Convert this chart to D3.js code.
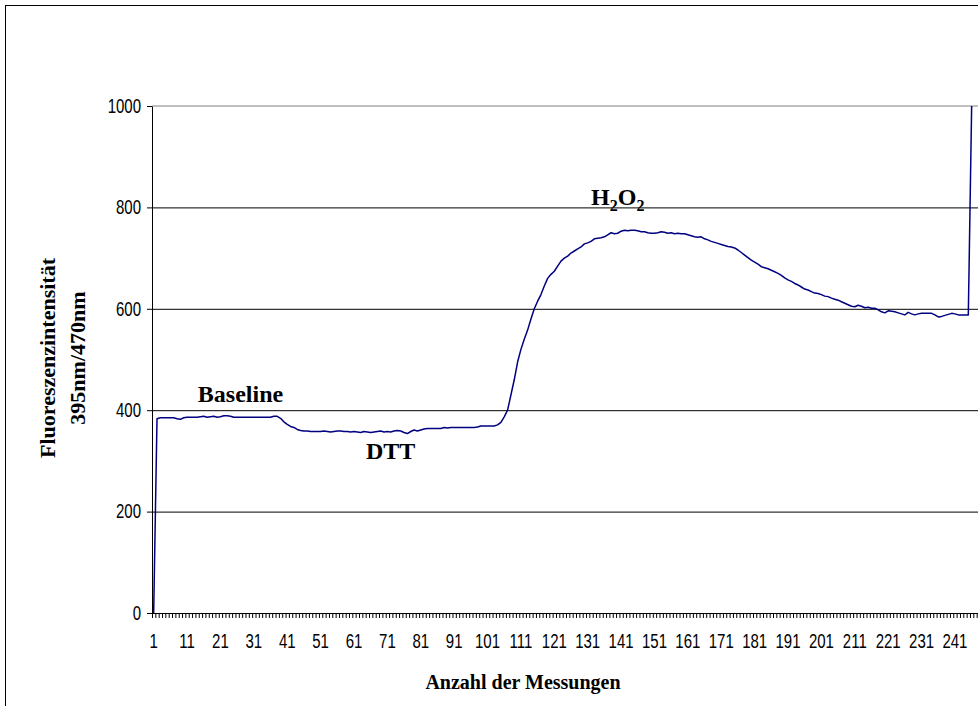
<!DOCTYPE html>
<html>
<head>
<meta charset="utf-8">
<script src="https://cdn.jsdelivr.net/npm/d3@7"></script>
<style>
  body { margin: 0; background: #fff; }
  svg { display: block; }
</style>
</head>
<body>
<svg id="chart"></svg>
<script>
// Messungen 1..248 (category axis)
const categories = d3.range(1, 249);

// Fluoreszenz 395nm/470nm, one value per Messung
const values = [
    0, 383, 385, 385, 385, 385, 385, 383, 382, 385,
  386, 386, 386, 386, 387, 388, 386, 387, 388, 386,
  387, 389, 389, 388, 386, 386, 386, 386, 386, 386,
  386, 386, 386, 386, 386, 386, 388, 388, 384, 377,
  372, 368, 366, 362, 360, 359, 359, 358, 358, 358,
  358, 359, 358, 357, 358, 359, 359, 358, 358, 357,
  358, 357, 356, 358, 357, 356, 357, 358, 359, 357,
  358, 357, 359, 360, 359, 356, 354, 358, 361, 359,
  361, 363, 364, 364, 364, 364, 364, 366, 365, 366,
  366, 366, 366, 366, 366, 366, 366, 367, 369, 369,
  369, 369, 369, 371, 376, 387, 400, 430, 460, 495,
  520, 540, 558, 580, 600, 615, 628, 645, 660, 668,
  674, 684, 694, 700, 704, 710, 714, 718, 722, 728,
  730, 733, 738, 739, 740, 742, 746, 750, 748, 749,
  753, 755, 754, 755, 755, 754, 752, 752, 750, 749,
  749, 750, 752, 751, 749, 750, 748, 749, 748, 748,
  746, 744, 742, 741, 742, 738, 736, 733, 731, 729,
  727, 725, 723, 722, 720, 716, 711, 706, 701, 696,
  692, 688, 683, 681, 679, 676, 673, 670, 666, 661,
  657, 654, 650, 647, 643, 639, 637, 634, 631, 630,
  628, 625, 624, 621, 619, 617, 614, 611, 608, 605,
  604, 607, 605, 602, 603, 601, 601, 598, 594, 592,
  596, 595, 594, 592, 590, 588, 593, 590, 588, 590,
  591, 591, 591, 591, 588, 584, 585, 587, 589, 591,
  590, 588, 588, 588, 588, 1000
];

const yTicks = [0, 200, 400, 600, 800, 1000];
const xTickLabels = [1, 11, 21, 31, 41, 51, 61, 71, 81, 91, 101, 111, 121,
  131, 141, 151, 161, 171, 181, 191, 201, 211, 221, 231, 241];

// annotation texts, anchored at (Messung, Intensität)
const notes = [
  { text: "Baseline", cat: 27, value: 416 },
  { text: "DTT", cat: 72, value: 304 },
  { text: "H2O2", cat: 140, value: 805 }
];

const xTitle = "Anzahl der Messungen";
const yTitle = ["Fluoreszenzintensität", "395nm/470nm"];

class LineChart {
  margin = { top: 106, right: -2, bottom: 93, left: 152 }

  constructor(svg, width = 978, height = 706) {
    this.svg = svg;
    this.width = width;
    this.height = height;
  }

  initialize() {
    this.svg = d3.select(this.svg)
      .attr("width", this.width)
      .attr("height", this.height);

    this.x0 = this.margin.left;
    this.x1 = this.width - this.margin.right;
    this.y0 = this.height - this.margin.bottom;
    this.y1 = this.margin.top;

    this.xScale = d3.scaleBand().domain(categories).range([this.x0, this.x1]);
    this.xEdge = d3.scaleLinear().domain([0, categories.length]).range([this.x0, this.x1]);
    this.yScale = d3.scaleLinear().domain([0, 1000]).range([this.y0, this.y1]);

    // outer chart frame
    this.svg.append("rect")
      .attr("x", 5.5).attr("y", 5.5)
      .attr("width", 1100).attr("height", 760)
      .attr("fill", "none").attr("stroke", "#000");

    this.grid = this.svg.append("g");
    this.border = this.svg.append("g");
    this.line = this.svg.append("g");
    this.xAxis = this.svg.append("g");
    this.xTicks = this.svg.append("g");
    this.yAxis = this.svg.append("g");
    this.labels = this.svg.append("g");
  }

  update() {
    const w = this.x1 - this.x0;
    const stretch = 1.3;   // tick fonts in the original are drawn taller than wide

    this.grid
      .attr("transform", `translate(${this.x0},0)`)
      .call(d3.axisLeft(this.yScale).tickValues([200, 400, 600, 800]).tickSize(-w).tickFormat(""))
      .call(g => g.select(".domain").remove())
      .selectAll("line").attr("stroke", "#000");

    // plot area top border
    this.border.append("line")
      .attr("x1", this.x0).attr("x2", this.x1)
      .attr("y1", this.yScale(1000)).attr("y2", this.yScale(1000))
      .attr("stroke", "#808080");

    this.svg.append("clipPath").attr("id", "plot-clip")
      .append("rect")
      .attr("x", this.x0).attr("y", this.y1 - 1)
      .attr("width", w).attr("height", this.y0 - this.y1 + 1);

    const pts = values.map((v, i) => [categories[i], v]);
    const path = d3.line()
      .x(d => this.xScale(d[0]) + this.xScale.bandwidth() / 2)
      .y(d => this.yScale(d[1]));

    this.line.attr("clip-path", "url(#plot-clip)")
      .append("path")
      .datum(pts)
      .attr("d", path)
      .attr("fill", "none")
      .attr("stroke", "#000080")
      .attr("stroke-width", 1.5)
      .attr("stroke-linejoin", "round");

    // category tick marks between Messungen
    this.xTicks
      .attr("transform", `translate(0,${this.y0})`)
      .call(d3.axisBottom(this.xEdge).tickValues(d3.range(0, categories.length + 1))
        .tickSize(5).tickSizeOuter(0).tickFormat(""))
      .call(g => g.select(".domain").attr("stroke", "#000"))
      .selectAll("line").attr("stroke", "#000");

    const sans = "Arial, 'Liberation Sans', sans-serif";

    this.xAxis
      .attr("transform", `translate(0,${this.y0})`)
      .call(d3.axisBottom(this.xScale).tickValues(xTickLabels).tickSize(0).tickPadding(16.5))
      .call(g => g.select(".domain").remove())
      .selectAll("text")
      .attr("fill", "#000")
      .attr("transform", `scale(1,${stretch})`)
      .style("font-family", sans)
      .style("font-size", "15px");

    this.yAxis
      .attr("transform", `translate(${this.x0},0)`)
      .call(d3.axisLeft(this.yScale).tickValues(yTicks).tickSize(5).tickPadding(6)
        .tickSizeOuter(0).tickFormat(d3.format("d")))
      .call(g => g.select(".domain").attr("stroke", "#000"))
      .call(g => g.selectAll("line").attr("stroke", "#000"))
      .selectAll("text")
      .attr("fill", "#000")
      .attr("transform", `scale(1,${stretch})`)
      .style("font-family", sans)
      .style("font-size", "15px");

    const serif = "'Times New Roman', 'Liberation Serif', serif";

    notes.forEach(n => {
      const t = this.labels.append("text")
        .attr("x", this.xScale(n.cat) + this.xScale.bandwidth() / 2)
        .attr("y", this.yScale(n.value))
        .attr("text-anchor", "middle")
        .style("font-family", serif)
        .style("font-weight", "bold")
        .style("font-size", "24px");
      if (n.text === "H2O2") {
        t.append("tspan").text("H");
        t.append("tspan").attr("dy", 6).style("font-size", "16px").text("2");
        t.append("tspan").attr("dy", -6).text("O");
        t.append("tspan").attr("dy", 6).style("font-size", "16px").text("2");
      } else {
        t.text(n.text);
      }
    });

    this.labels.append("text")
      .attr("x", 523).attr("y", 689)
      .attr("text-anchor", "middle")
      .style("font-family", serif).style("font-weight", "bold").style("font-size", "20px")
      .text(xTitle);

    yTitle.forEach((s, i) => {
      this.labels.append("text")
        .attr("transform", `translate(${55 + i * 30},358) rotate(-90)`)
        .attr("text-anchor", "middle")
        .style("font-family", serif).style("font-weight", "bold").style("font-size", "22px")
        .text(s);
    });
  }
}

const chart = new LineChart(document.getElementById("chart"));
chart.initialize();
chart.update();
</script>
</body>
</html>
